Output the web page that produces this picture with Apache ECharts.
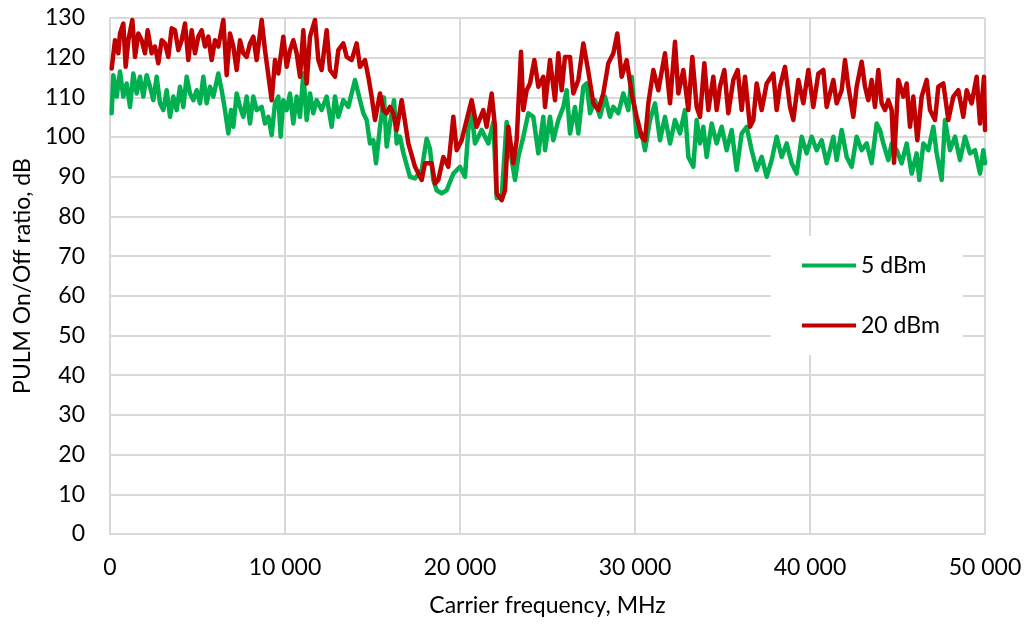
<!DOCTYPE html>
<html><head><meta charset="utf-8">
<script src="https://cdn.jsdelivr.net/npm/echarts@6/dist/echarts.min.js"></script>
<style>html,body{margin:0;padding:0;background:#fff}#c{width:1027px;height:628px}</style>
</head><body><div id="c"></div>
<script>
const seriesNames = ['5 dBm', '20 dBm'];
const xTitle = 'Carrier frequency, MHz';
const yTitle = 'PULM On/Off ratio, dB';

const f5 = [95,190,381,571,762,952,1143,1333,1524,1714,1905,2095,2286,2476,2667,2857,3048,3238,3429,3619,3810,4000,4190,4381,4571,4762,4952,5143,5333,5524,5714,5905,6190,6381,6571,6762,6914,7048,7238,7429,7619,7810,8000,8190,8381,8667,8857,9048,9238,9429,9619,9752,9905,10095,10286,10476,10667,10857,11048,11238,11429,11619,11810,12095,12381,12667,12857,13048,13333,13619,13810,14000,14190,14476,14667,14857,15048,15200,15429,15657,15810,16000,16229,16381,16571,16762,17143,17429,17810,18095,18286,18476,18667,18952,19238,19619,20000,20286,20476,20667,20857,21238,21619,21905,22095,22381,22667,22857,23143,23333,23619,23905,24190,24476,24762,24857,25143,25333,25619,25905,26095,26286,26571,26762,27048,27238,27429,27714,28000,28286,28571,28762,29048,29333,29619,29810,30095,30381,30571,30857,31143,31429,31714,32000,32286,32571,32857,33048,33333,33524,33714,33905,34095,34381,34667,34952,35238,35524,35810,36095,36381,36667,36952,37238,37524,37810,38095,38381,38667,38952,39238,39524,39810,40095,40381,40667,40952,41238,41333,41524,41810,42095,42381,42667,42952,43238,43524,43810,44000,44190,44476,44667,44952,45238,45524,45810,46095,46248,46476,46762,47048,47238,47524,47714,48000,48286,48571,48857,49143,49429,49714,49905,50000];
const v5 = [106.0,115.6,110.2,116.5,110.2,113.5,107.6,116.0,111.0,115.2,110.2,115.6,112.7,109.3,115.2,108.5,106.8,111.8,105.1,110.2,106.8,112.7,107.6,115.2,111.0,109.3,111.8,108.5,115.2,108.5,112.7,110.2,116.0,111.8,106.8,100.9,106.8,102.6,111.0,107.6,105.1,110.2,103.4,110.2,106.8,107.6,103.4,105.1,100.5,108.5,110.2,100.1,109.3,106.8,111.0,103.4,110.2,105.1,116.0,104.3,111.0,106.0,109.3,106.8,110.2,102.6,110.2,105.1,109.3,107.6,111.0,114.4,111.0,106.0,104.3,98.4,99.2,93.4,102.6,110.0,97.6,103.4,109.3,98.4,100.1,96.0,90.0,89.6,91.7,99.6,97.0,89.2,86.6,85.8,86.6,90.8,92.5,90.0,101.8,106.0,98.4,101.8,98.4,103.8,84.6,85.0,103.8,96.7,89.2,95.0,100.1,106.0,105.1,95.9,105.1,96.7,105.1,99.2,104.3,107.6,111.8,100.9,107.6,100.9,112.7,113.5,106.0,109.3,105.1,110.2,105.1,107.6,106.0,111.0,106.8,115.2,100.1,100.9,96.7,104.3,108.5,99.2,105.1,98.4,104.3,100.9,106.8,95.0,92.5,104.3,98.4,102.6,95.0,103.4,98.4,102.6,96.7,101.8,91.7,100.9,102.6,96.7,91.7,95.0,90.0,94.2,100.1,95.0,98.4,93.4,90.8,100.1,95.9,100.1,96.7,99.2,93.4,98.4,100.1,94.2,101.8,95.0,92.5,100.1,96.7,98.4,93.4,103.4,101.8,98.4,94.2,98.4,96.7,93.4,98.4,90.8,95.9,89.2,98.4,96.7,102.6,95.9,89.2,104.3,96.7,100.1,94.2,100.1,95.9,96.7,90.8,96.7,93.4];

const f20 = [95,286,476,571,762,895,1048,1276,1429,1619,1810,2000,2152,2381,2571,2762,2952,3143,3333,3524,3714,3905,4095,4286,4476,4667,4857,5048,5238,5429,5619,5810,6000,6190,6476,6667,6857,7048,7238,7429,7619,7810,8000,8190,8381,8667,8857,9048,9238,9429,9619,9905,10095,10286,10476,10667,10857,11048,11238,11429,11714,11905,12095,12381,12571,12857,13048,13333,13524,13810,14095,14286,14571,14762,14952,15143,15429,15619,15810,16000,16190,16381,16667,17048,17429,17810,18000,18381,18571,18762,19048,19333,19619,19810,20095,20381,20667,20952,21333,21524,21810,22000,22095,22381,22571,22762,23048,23238,23486,23619,23810,24000,24248,24476,24762,24857,25143,25429,25619,25810,26000,26286,26476,26762,27048,27333,27619,27905,28190,28476,28762,28990,29238,29524,29810,30095,30381,30571,30762,31048,31333,31714,32000,32286,32476,32762,33048,33276,33524,33714,33962,34190,34476,34667,34857,35105,35333,35619,35867,36095,36286,36571,36762,36952,37238,37524,37905,38095,38286,38571,38857,39048,39333,39619,39905,40190,40476,40762,40952,41238,41333,41524,41810,42000,42190,42476,42667,42952,43143,43333,43524,43714,43905,44095,44286,44476,44667,44800,45048,45333,45524,45714,45905,46133,46381,46667,46857,47143,47333,47619,47905,48190,48476,48762,48952,49238,49524,49714,49943,50000];
const v20 = [117.3,124.4,121.1,126.1,128.6,117.7,124.4,129.5,120.2,126.1,124.4,121.1,126.9,121.1,122.8,118.6,124.4,123.6,120.2,127.4,126.9,121.9,124.4,128.6,119.4,126.9,121.1,125.3,126.9,122.8,125.3,119.4,124.4,122.8,129.5,115.6,126.1,122.8,116.9,124.4,121.1,120.2,123.6,125.3,119.4,129.5,121.9,115.6,109.3,119.4,116.0,125.3,117.7,121.9,124.4,121.1,115.2,126.9,113.5,125.3,129.5,119.4,116.9,126.9,116.9,115.2,121.9,123.6,120.2,119.4,123.6,117.7,119.4,115.2,110.2,104.3,111.0,106.8,106.0,107.6,106.0,101.8,109.3,98.4,92.5,89.2,93.4,93.4,88.3,89.2,95.0,92.5,105.1,96.7,99.2,104.3,109.3,102.6,106.8,102.6,111.0,102.6,85.8,84.1,86.6,102.6,93.4,99.2,121.5,106.8,111.8,113.5,119.4,112.7,115.2,107.6,119.4,109.3,121.1,111.8,120.2,120.2,111.0,114.4,123.6,116.5,108.5,106.8,111.0,118.6,121.1,126.1,115.2,119.4,111.0,105.1,100.1,99.2,108.5,116.9,111.8,121.1,108.5,124.0,111.0,116.9,106.8,120.2,107.6,105.1,118.6,106.8,115.2,106.8,112.7,116.9,106.0,114.4,116.9,106.8,115.2,102.6,104.3,113.5,106.8,113.5,116.0,106.8,112.7,117.7,107.6,104.3,114.4,108.5,116.9,107.6,116.0,116.9,107.6,112.7,114.4,108.5,111.8,119.4,112.7,105.1,112.7,119.0,112.7,109.3,114.4,107.6,116.9,108.5,106.8,109.3,106.8,93.5,114.4,110.2,113.5,102.6,110.2,99.2,110.2,114.4,106.8,104.3,112.7,113.5,104.3,110.2,111.8,105.1,111.8,108.5,115.2,103.4,115.2,101.8];

const zip = (f, v) => f.map((x, i) => [x, v[i]]);
const fmtThousands = v => String(v).replace(/\B(?=(\d{3})+(?!\d))/g, ' ');
const FONT = 'Lato';

const chart = echarts.init(document.getElementById('c'), null, {renderer: 'canvas'});
chart.setOption({
  animation: false,
  backgroundColor: '#ffffff',
  textStyle: {fontFamily: FONT, color: '#000'},
  grid: {left: 110, right: 42, top: 18, bottom: 94, containLabel: false},
  legend: {
    orient: 'vertical',
    left: 771, top: 236,
    padding: [18, 23, 18, 31],
    backgroundColor: '#ffffff',
    itemWidth: 54, itemHeight: 4, itemGap: 37,
    textStyle: {fontFamily: FONT, fontSize: 23, color: '#000'},
    data: seriesNames.map(n => ({name: n, icon: 'rect'}))
  },
  xAxis: {
    type: 'value', min: 0, max: 50000, interval: 10000,
    name: xTitle, nameLocation: 'middle', nameGap: 60,
    nameTextStyle: {fontFamily: FONT, fontSize: 23, color: '#000'},
    axisLine: {show: true, lineStyle: {color: '#d9d9d9', width: 2}},
    axisTick: {show: false},
    axisLabel: {margin: 22, fontFamily: FONT, fontSize: 23, color: '#000', formatter: fmtThousands},
    splitLine: {show: true, lineStyle: {color: '#d9d9d9', width: 2}}
  },
  yAxis: {
    type: 'value', min: 0, max: 130, interval: 10,
    name: yTitle, nameLocation: 'middle', nameGap: 76, nameRotate: 90,
    nameTextStyle: {fontFamily: FONT, fontSize: 23, color: '#000'},
    axisLine: {show: true, lineStyle: {color: '#d9d9d9', width: 2}},
    axisTick: {show: false},
    axisLabel: {margin: 25, fontFamily: FONT, fontSize: 23, color: '#000'},
    splitLine: {show: true, lineStyle: {color: '#d9d9d9', width: 2}}
  },
  series: [
    {name: seriesNames[0], type: 'line', data: zip(f5, v5), symbol: 'none',
     lineStyle: {color: '#00B050', width: 4.5, join: 'round', cap: 'round'}, itemStyle: {color: '#00B050'}},
    {name: seriesNames[1], type: 'line', data: zip(f20, v20), symbol: 'none',
     lineStyle: {color: '#C00000', width: 4.5, join: 'round', cap: 'round'}, itemStyle: {color: '#C00000'}}
  ]
});
</script>
</body></html>
